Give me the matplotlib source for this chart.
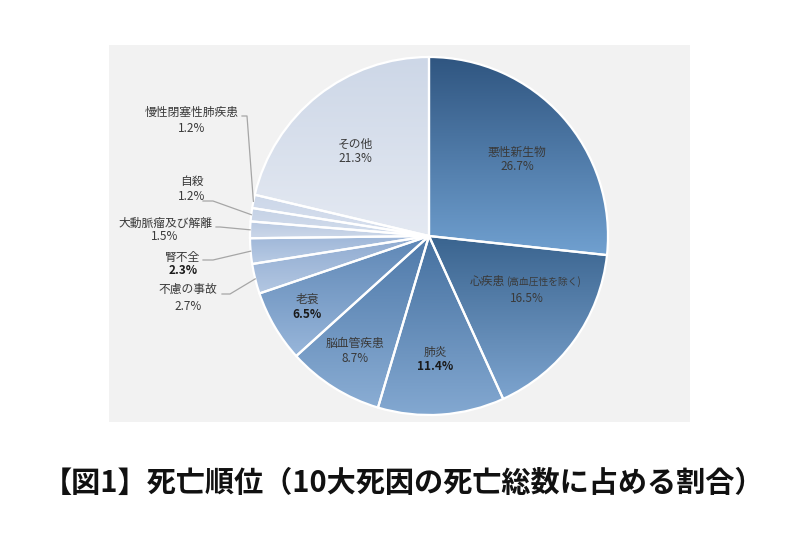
import numpy as np
import matplotlib.pyplot as plt
from matplotlib.colors import LinearSegmentedColormap
from matplotlib.patches import Rectangle

plt.rcParams['font.family'] = ['Noto Sans CJK JP', 'DejaVu Sans']

# data
causes = ["悪性新生物", "心疾患", "肺炎", "脳血管疾患", "老衰", "不慮の事故",
          "腎不全", "大動脈瘤及び解離", "自殺", "慢性閉塞性肺疾患", "その他"]
shares = [26.7, 16.5, 11.4, 8.7, 6.5, 2.7, 2.3, 1.5, 1.2, 1.2, 21.3]
heart_note = "(高血圧性を除く)"
title = "【図1】死亡順位（10大死因の死亡総数に占める割合）"

# gradient (top -> bottom) per slice
top_colors = ["#2f5580", "#3a648f", "#45709f", "#4e79a9", "#5d86b5", "#8eaad0",
              "#9db6d8", "#b9c9e1", "#c5d2e6", "#ccd7e9", "#cdd7e7"]
bottom_colors = ["#70a0d0", "#7da4cf", "#83a8d1", "#8aadd4", "#98b6da", "#b3c7e2",
                 "#b9cbe4", "#cbd7e9", "#d3ddec", "#d8e0ee", "#e4e9f2"]

# label centres in pixels (name line, pct line)
label_px = [(517, 152, 167), (505, 282, 298), (435, 352, 367), (355, 343, 358),
            (307, 299, 314), (188, 289, 306), (183, 257, 271), (165, 223, 237),
            (192, 181, 197), (192, 112, 128), (355, 144, 159)]
bold_pct = {2, 4, 6}
# leader lines: start and elbow in pixels, end on the slice edge
leaders = {5: [(222, 294), (230, 294)], 6: [(203, 260), (213, 260)],
           7: [(216, 227), (220, 227)], 8: [(203, 201), (213, 201)],
           9: [(242, 116), (247, 116)]}

W, H = 800, 543
CX, CY, R = 429, 236, 179

fig = plt.figure(figsize=(W / 100, H / 100), dpi=100)
fig.patches.append(Rectangle((109 / W, 1 - 422 / H), 581 / W, 377 / H,
                             transform=fig.transFigure, facecolor="#f2f2f2",
                             edgecolor="none", zorder=-1))

ax = fig.add_axes([(CX - R) / W, (H - CY - R) / H, 2 * R / W, 2 * R / H])
ax.set_xlim(-1, 1)
ax.set_ylim(-1, 1)
ax.set_aspect("equal")
ax.axis("off")


def px(x, y):
    return (x - CX) / R, (CY - y) / R


wedges, _ = ax.pie(shares, startangle=90, counterclock=False, radius=1,
                   wedgeprops=dict(facecolor="none", edgecolor="white",
                                   linewidth=1.6, zorder=3))

for i, w in enumerate(wedges):
    t = np.radians(np.linspace(w.theta1, w.theta2, 200))
    xs = np.concatenate([[0], np.cos(t)])
    ys = np.concatenate([[0], np.sin(t)])
    cmap = LinearSegmentedColormap.from_list("g", [bottom_colors[i], top_colors[i]])
    grad = np.linspace(1, 0, 256).reshape(-1, 1)
    im = ax.imshow(grad, cmap=cmap, vmin=0, vmax=1, aspect="auto",
                   extent=(xs.min(), xs.max(), ys.min(), ys.max()),
                   interpolation="bilinear", zorder=2)
    im.set_clip_path(w)

ax.set_xlim(-1, 1)
ax.set_ylim(-1, 1)

txt = dict(color="#3a3a3a", fontsize=8.5, ha="center", va="center")
for i, name in enumerate(causes):
    x, y1, y2 = label_px[i]
    if i == 1:
        ax.text(*px(x, y1), name, **{**txt, "ha": "right"})
        ax.text(*px(x + 1, y1), heart_note, **{**txt, "ha": "left", "fontsize": 7})
        x = 527
    else:
        ax.text(*px(x, y1), name, **txt)
    weight = "bold" if i in bold_pct else "normal"
    pct_color = "#1a1a1a" if i in bold_pct else "#3a3a3a"
    ax.text(*px(x, y2), f"{shares[i]}%", fontweight=weight,
            **{**txt, "color": pct_color})

for i, pts in leaders.items():
    w = wedges[i]
    mid = np.radians((w.theta1 + w.theta2) / 2)
    xy = [px(*p) for p in pts] + [(np.cos(mid), np.sin(mid))]
    ax.plot([p[0] for p in xy], [p[1] for p in xy], color="#a6a6a6",
            linewidth=0.9, clip_on=False, zorder=4)

fig.text(403 / W, 1 - 483 / H, title, fontsize=21, fontweight="bold",
         ha="center", va="center", color="#111111")

fig.savefig("out.png", dpi=100)
